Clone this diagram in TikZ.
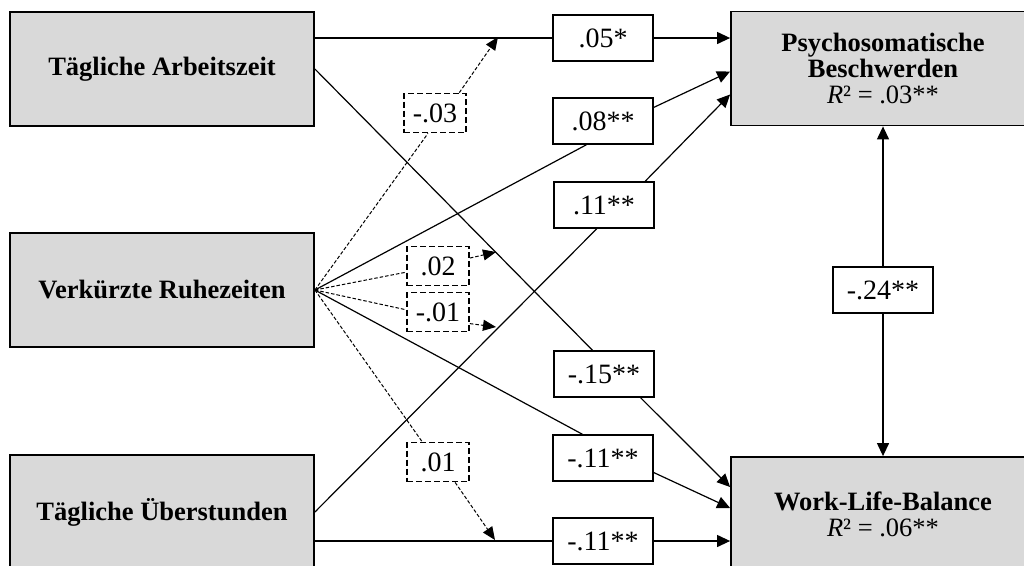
\documentclass[tikz,border=0pt]{standalone}
\usepackage{fontspec}
\setmainfont{Liberation Serif}
\usepackage{xcolor}
\usetikzlibrary{arrows.meta}
\definecolor{boxgrau}{HTML}{D9D9D9}

\tikzset{
  konstrukt/.style={draw, line width=1.8pt, fill=boxgrau, minimum width=304pt, minimum height=114pt, inner sep=0pt, align=center, font=\bfseries\fontsize{26.5}{26}\selectfont},
  koeff/.style={draw, line width=1.6pt, fill=white, minimum width=100pt, minimum height=46pt, inner sep=0pt, font=\fontsize{28}{30}\selectfont},
  moderator/.style={draw, line width=1.8pt, dash pattern=on 6pt off 3pt, fill=white, minimum width=62pt, minimum height=39pt, inner sep=0pt, font=\fontsize{28}{30}\selectfont},
  pfad/.style={line width=1.2pt, -{Triangle[length=13pt,width=12pt]}},
  linie/.style={line width=1.2pt},
  modpfad/.style={line width=1pt, dash pattern=on 3.5pt off 2pt},
  modpfeil/.style={line width=1pt, dash pattern=on 3.5pt off 2pt, -{Triangle[length=13pt,width=11pt]}}
}

\begin{document}
\begin{tikzpicture}[x=1pt,y=-1pt]
\useasboundingbox (0,0) rectangle (1024,565);
\clip (0,0) rectangle (1024,565);

% Konstrukte
\node [konstrukt] (arb) at (162,69) {T\"agliche Arbeitszeit};
\node [konstrukt] (ver) at (162,290) {Verk\"urzte Ruhezeiten};
\node [konstrukt] (ueb) at (162,512) {T\"agliche \"Uberstunden};
\node [konstrukt] (psy) at (883,68.5) {Psychosomatische\\Beschwerden\\{\mdseries\textit{R}² = .03**}};
\node [konstrukt] (wlb) at (883,514) {Work-Life-Balance\\{\mdseries\textit{R}² = .06**}};

% Koeffizienten
\node [koeff] (b05) at (603,38) {.05*};
\node [koeff] (b08) at (603,121) {.08**};
\node [koeff] (b11) at (604,205) {.11**};
\node [koeff] (b15) at (604,374) {-.15**};
\node [koeff] (b11m) at (603,458) {-.11**};
\node [koeff] (b11u) at (603,541) {-.11**};
\node [koeff] (b24) at (883,290) {-.24**};

% Moderation
\node [moderator] (m03) at (435,113) {-.03};
\node [moderator] (m02) at (438,266) {.02};
\node [moderator] (m01a) at (438,312) {-.01};
\node [moderator] (m01b) at (438,462) {.01};
\coordinate (t03) at (498,37);
\coordinate (t02) at (496,252);
\coordinate (t01a) at (496,327);
\coordinate (t01b) at (495,540);

% Pfade
\draw [linie] (arb.east |- b05) -- (b05);
\draw [pfad] (b05) -- (psy.west |- b05);
\draw [linie] (ver.east) -- (b08.235);
\draw [pfad] (b08.15) -- ([yshift=-3pt]psy.west);
\draw [linie] (ueb.east) -- (b11.253);
\draw [pfad] (b11.30) -- ([yshift=-26pt]psy.west);
\draw [linie] (arb.east) -- (b15.116);
\draw [pfad] (b15.327) -- ([yshift=27pt]wlb.west);
\draw [linie] (ver.east) -- (b11m.131);
\draw [pfad] (b11m.344) -- ([yshift=6pt]wlb.west);
\draw [linie] (ueb.east |- b11u) -- (b11u);
\draw [pfad] (b11u) -- (wlb.west |- b11u);
\draw [pfad] (b24) -- (psy);
\draw [pfad] (b24) -- (wlb);

% Moderatorpfade
\draw [modpfad] (ver.east) -- (m03.251);
\draw [modpfeil] (m03.40) -- (t03);
\draw [modpfad] (ver.east) -- (m02.191);
\draw [modpfeil] (m02.14) -- (t02);
\draw [modpfad] (ver.east) -- (m01a.176);
\draw [modpfeil] (m01a.340) -- (t01a);
\draw [modpfad] (ver.east) -- (m01b.128);
\draw [modpfeil] (m01b.310) -- (t01b);

\end{tikzpicture}
\end{document}
